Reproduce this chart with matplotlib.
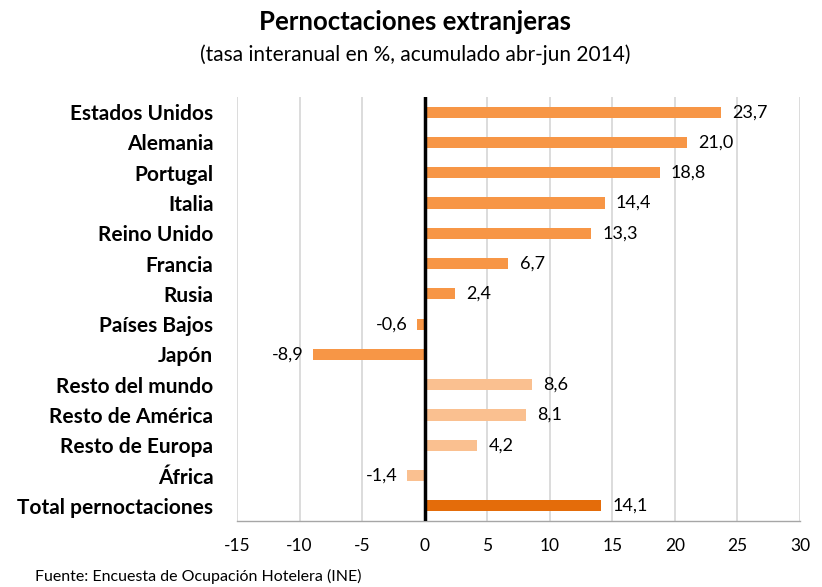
import matplotlib
matplotlib.use("Agg")
import matplotlib.pyplot as plt

categories = ["Estados Unidos", "Alemania", "Portugal", "Italia", "Reino Unido",
              "Francia", "Rusia", "Países Bajos", "Japón", "Resto del mundo",
              "Resto de América", "Resto de Europa", "África", "Total pernoctaciones"]
values = [23.7, 21.0, 18.8, 14.4, 13.3, 6.7, 2.4, -0.6, -8.9, 8.6, 8.1, 4.2, -1.4, 14.1]
groups = ["country"] * 9 + ["rest"] * 4 + ["total"]
group_colors = {"country": "#F79646", "rest": "#FAC090", "total": "#E46C0A"}
xticks = [-15, -10, -5, 0, 5, 10, 15, 20, 25, 30]

plt.rcParams['font.family'] = ['Lato', 'DejaVu Sans']

fig = plt.figure(figsize=(8.22, 5.87), dpi=100)
ax = fig.add_axes([237/822, 1-521/587, 563/822, 424/587])

ypos = list(range(len(categories)))
colors = [group_colors[g] for g in groups]
ax.barh(ypos, values, height=0.37, color=colors, zorder=3)
ax.set_ylim(len(categories)-0.5, -0.5)
ax.set_xlim(-15, 30)
ax.set_xticks(xticks)
ax.set_xticklabels([str(t) for t in xticks], fontsize=12.5)
ax.set_yticks(ypos)
ax.set_yticklabels(categories, fontsize=15, fontweight='bold')
ax.tick_params(axis='y', length=0, pad=17)
ax.tick_params(axis='x', length=0, pad=12)
ax.grid(axis='x', color='#D9D9D9', linewidth=1.3, zorder=0)
for s in ['top', 'right', 'left']:
    ax.spines[s].set_visible(False)
ax.spines['bottom'].set_color('#A6A6A6')
ax.spines['bottom'].set_linewidth(1.0)
ax.axvline(0, color='black', linewidth=2.5, zorder=4)

for y, v in zip(ypos, values):
    txt = f"{v:.1f}".replace(".", ",")
    if v >= 0:
        ax.annotate(txt, (v, y), xytext=(8, 0), textcoords='offset points',
                    ha='left', va='center', fontsize=13)
    else:
        ax.annotate(txt, (v, y), xytext=(-7, 0), textcoords='offset points',
                    ha='right', va='center', fontsize=13)

fig.text(415/822, 1-22/587, "Pernoctaciones extranjeras", ha='center', va='center',
         fontsize=18.5, fontweight='bold')
fig.text(415/822, 1-55/587, "(tasa interanual en %, acumulado abr-jun 2014)", ha='center',
         va='center', fontsize=15)
fig.text(35/822, 1-576/587, "Fuente: Encuesta de Ocupación Hotelera (INE)", ha='left',
         va='center', fontsize=11.5)

fig.savefig("out.png", dpi=100)
